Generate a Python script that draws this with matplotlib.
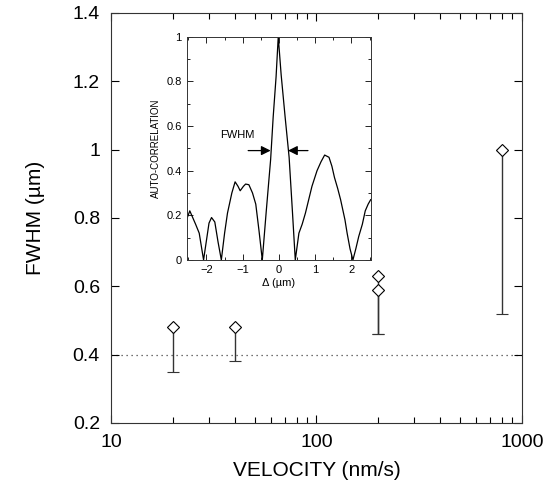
import numpy as np
import matplotlib
matplotlib.use('Agg')
import matplotlib.pyplot as plt
from matplotlib.ticker import MultipleLocator, FixedLocator, FixedFormatter

plt.rcParams['font.family'] = ['Liberation Sans', 'DejaVu Sans']

# main data: FWHM vs scan velocity, error bars go downward only
velocity = [20, 40, 200, 200, 800]
fwhm = [0.48, 0.48, 0.63, 0.59, 1.0]
fwhm_low = [0.35, 0.38, 0.46, 0.46, 0.52]
reference_level = 0.4

# inset: auto-correlation curve
delta = [-2.55, -2.46, -2.3, -2.2, -2.08, -1.98, -1.93, -1.86, -1.77, -1.68, -1.59,
         -1.5, -1.42, -1.3, -1.21, -1.13, -1.07, -0.98, -0.92, -0.83, -0.73, -0.64,
         -0.55, -0.46, -0.35, -0.23, -0.16, -0.08, -0.02, 0.06, 0.17, 0.28, 0.37,
         0.45, 0.55, 0.64, 0.73, 0.82, 0.91, 1.05, 1.16, 1.26, 1.38, 1.46, 1.53,
         1.62, 1.7, 1.82, 1.88, 1.96, 2.04, 2.12, 2.2, 2.3, 2.38, 2.46, 2.53]
autocorr = [0.18, 0.22, 0.16, 0.12, 0.0, 0.11, 0.165, 0.19, 0.17, 0.08, 0.0,
            0.12, 0.21, 0.3, 0.35, 0.33, 0.31, 0.33, 0.34, 0.337, 0.3, 0.25,
            0.13, 0.0, 0.22, 0.45, 0.64, 0.82, 1.0, 0.83, 0.64, 0.46, 0.22,
            0.0, 0.12, 0.16, 0.21, 0.27, 0.33, 0.40, 0.44, 0.47, 0.46, 0.42, 0.37,
            0.32, 0.27, 0.18, 0.12, 0.05, 0.0, 0.05, 0.105, 0.16, 0.22, 0.25, 0.27]
fwhm_arrow_y = 0.49

fig = plt.figure(figsize=(5.47, 4.97), dpi=100)
ax = fig.add_axes([0.203, 0.149, 0.751, 0.825])

ax.axhline(reference_level, color='#444444', lw=0.9, ls=(0, (1, 3)), zorder=1)
lower = np.array(fwhm) - np.array(fwhm_low)
ax.errorbar(velocity, fwhm, yerr=[lower, np.zeros(len(lower))], fmt='D',
            ms=6, mfc='white', mec='black', mew=0.8, ecolor='#333333',
            elinewidth=1.0, capsize=4, capthick=1.0, zorder=3)

ax.set_xscale('log')
ax.set_xlim(10, 1000)
ax.set_ylim(0.2, 1.4)
ax.set_xticks([10, 100, 1000])
ax.set_xticklabels(['10', '100', '1000'])
ax.set_yticks([0.2, 0.4, 0.6, 0.8, 1.0, 1.2, 1.4])
ax.set_yticklabels(['0.2', '0.4', '0.6', '0.8', '1', '1.2', '1.4'])
ax.tick_params(which='both', direction='in', top=True, right=True, labelsize=14, width=0.8)
ax.tick_params(which='major', length=6, pad=8)
ax.tick_params(which='minor', length=4)
for s in ax.spines.values():
    s.set_linewidth(0.8)
    s.set_color('#333333')
ax.set_xlabel('VELOCITY (nm/s)', fontsize=15, labelpad=7)
ax.set_ylabel('FWHM (\u00b5m)', fontsize=15, labelpad=20)

# inset
ins = fig.add_axes([0.341, 0.477, 0.338, 0.449])
ins.plot(delta, autocorr, color='black', lw=0.9)
ins.set_xlim(-2.55, 2.55)
ins.set_ylim(0, 1)
ins.xaxis.set_major_locator(FixedLocator([-2, -1, 0, 1, 2]))
ins.xaxis.set_minor_locator(MultipleLocator(0.5))
ins.yaxis.set_major_locator(FixedLocator([0, 0.2, 0.4, 0.6, 0.8, 1.0]))
ins.yaxis.set_major_formatter(FixedFormatter(['0', '0.2', '0.4', '0.6', '0.8', '1']))
ins.yaxis.set_minor_locator(MultipleLocator(0.1))
ins.tick_params(which='both', direction='in', top=True, right=True, labelsize=8, width=0.6)
ins.tick_params(which='major', length=4)
ins.tick_params(which='minor', length=2.5)
for s in ins.spines.values():
    s.set_linewidth(0.7)
    s.set_color('#333333')
ins.set_xlabel('\u0394 (\u00b5m)', fontsize=8, labelpad=2)
ins.set_ylabel('AUTO-CORRELATION', fontsize=7, labelpad=4)

ins.annotate('', xy=(-0.23, fwhm_arrow_y), xytext=(-0.85, fwhm_arrow_y),
             arrowprops=dict(arrowstyle='-|>', color='black', lw=0.9, mutation_scale=14,
                             shrinkA=0, shrinkB=0))
ins.annotate('', xy=(0.25, fwhm_arrow_y), xytext=(0.8, fwhm_arrow_y),
             arrowprops=dict(arrowstyle='-|>', color='black', lw=0.9, mutation_scale=14,
                             shrinkA=0, shrinkB=0))
ins.text(-1.62, 0.56, 'FWHM', fontsize=8, ha='left', va='center')

fig.savefig('out.png', dpi=100)
